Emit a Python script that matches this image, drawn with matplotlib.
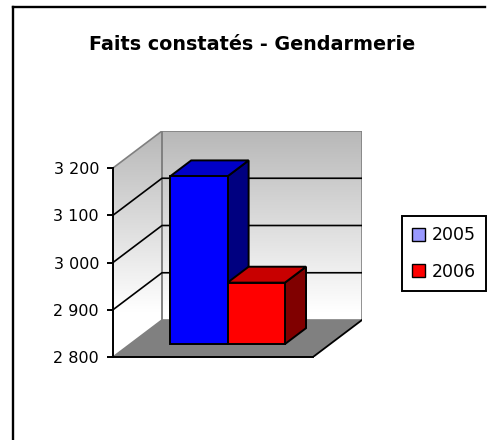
import numpy as np
import matplotlib
matplotlib.use("Agg")
import matplotlib.pyplot as plt
from matplotlib.patches import Polygon, Patch
from matplotlib.lines import Line2D
from matplotlib.colors import LinearSegmentedColormap

# ---- data ----
title = "Faits constatés - Gendarmerie"
years = ["2005", "2006"]
values = [3155, 2930]
yticks = [2800, 2900, 3000, 3100, 3200]

# ---- style ----
front_colors = ["#0000FF", "#FF0000"]
top_colors = ["#0000C8", "#C80000"]
side_colors = ["#000080", "#800000"]
legend_colors = ["#9999FF", "#FF0000"]

W, H = 491, 440
fig = plt.figure(figsize=(W / 100, H / 100), dpi=100)

# oblique depth offsets (x in category units, z in value units)
DX = 0.245
DZ = 78.3
ymin, ymax = 2800, 3200

def P(x, z, d):
    return (x + d * DX, z + d * DZ)

# axes placed in pixels
left_px, bottom_px = 113, 357
right_px = 113 + 200 * (1 + DX)
top_px = 357 - 189 * ((ymax - ymin + DZ) / (ymax - ymin))
ax = fig.add_axes([left_px / W, 1 - bottom_px / H, (right_px - left_px) / W, (bottom_px - top_px) / H])
ax.set_xlim(0, 1 + DX)
ax.set_ylim(ymin, ymax + DZ)
ax.patch.set_visible(False)

# walls with gradient
cmap = LinearSegmentedColormap.from_list("wall", [(0, "#FFFFFF"), (0.2, "#FFFFFF"), (1, "#B8B8B8")])
grad = np.linspace(0, 1, 256).reshape(-1, 1)
back = Polygon([P(0, ymin, 1), P(1, ymin, 1), P(1, ymax, 1), P(0, ymax, 1)], closed=True,
               facecolor="none", edgecolor="#808080", lw=1.2, zorder=1)
side = Polygon([P(0, ymin, 0), P(0, ymin, 1), P(0, ymax, 1), P(0, ymax, 0)], closed=True,
               facecolor="none", edgecolor="#808080", lw=1.2, zorder=1)
for poly in (back, side):
    ax.add_patch(poly)
    im = ax.imshow(grad, cmap=cmap, origin="lower", aspect="auto",
                   extent=(0, 1 + DX, ymin, ymax + DZ), zorder=0.5)
    im.set_clip_path(poly)

# gridlines
for v in yticks[1:-1]:
    xs, zs = zip(P(0, v, 0), P(0, v, 1), P(1, v, 1))
    ax.plot(xs, zs, color="black", lw=1.2, zorder=2, solid_capstyle="butt")

# floor
floor = Polygon([P(0, ymin, 0), P(1, ymin, 0), P(1, ymin, 1), P(0, ymin, 1)], closed=True,
                facecolor="#808080", edgecolor="none", zorder=3)
ax.add_patch(floor)
xs, zs = zip(P(1, ymin, 0), P(1, ymin, 1))
ax.plot(xs, zs, color="black", lw=1.3, zorder=3.5)

# bars
group_start = 0.2
bw = 0.287
d0, d1 = 0.35, 0.78
for i, v in enumerate(values):
    x0 = group_start + i * bw
    x1 = x0 + bw
    kw = dict(closed=True, edgecolor="black", lw=1.4, joinstyle="miter", zorder=4 + i)
    ax.add_patch(Polygon([P(x1, ymin, d0), P(x1, ymin, d1), P(x1, v, d1), P(x1, v, d0)],
                         facecolor=side_colors[i], **kw))
    ax.add_patch(Polygon([P(x0, v, d0), P(x1, v, d0), P(x1, v, d1), P(x0, v, d1)],
                         facecolor=top_colors[i], **kw))
    ax.add_patch(Polygon([P(x0, ymin, d0), P(x1, ymin, d0), P(x1, v, d0), P(x0, v, d0)],
                         facecolor=front_colors[i], **kw))

# axes spines / ticks
for s in ("top", "right"):
    ax.spines[s].set_visible(False)
ax.spines["left"].set_bounds(ymin, ymax)
ax.spines["bottom"].set_bounds(0, 1)
for s in ("left", "bottom"):
    ax.spines[s].set_linewidth(1.4)
    ax.spines[s].set_zorder(6)
ax.set_xticks([])
ax.set_yticks(yticks)
ax.set_yticklabels([f"{v:,}".replace(",", " ") for v in yticks])
ax.tick_params(axis="y", direction="out", length=4, width=1.4, pad=6, labelsize=11.5)

# title
fig.text(252 / W, 1 - 45 / H, title, ha="center", va="center", fontsize=13.8, fontweight="bold")

# legend
handles = [Patch(facecolor=c, edgecolor="black", lw=1) for c in legend_colors]
leg = fig.legend(handles, years, loc="upper left", bbox_to_anchor=(402 / W, 1 - 216 / H),
                 frameon=True, fancybox=False, framealpha=1, edgecolor="black",
                 borderaxespad=0, fontsize=12.5, handlelength=0.75, handleheight=0.75,
                 handletextpad=0.35, labelspacing=1.05, borderpad=0.6)
leg.get_frame().set_linewidth(1.4)

# outer frame (top and left edges)
fig.add_artist(Line2D([12.5 / W, 485 / W], [1 - 7 / H, 1 - 7 / H], color="black", lw=1.7,
                      transform=fig.transFigure))
fig.add_artist(Line2D([12.5 / W, 12.5 / W], [1 - 7 / H, 0], color="black", lw=1.7,
                      transform=fig.transFigure))

fig.savefig("out.png", dpi=100, facecolor="white")
